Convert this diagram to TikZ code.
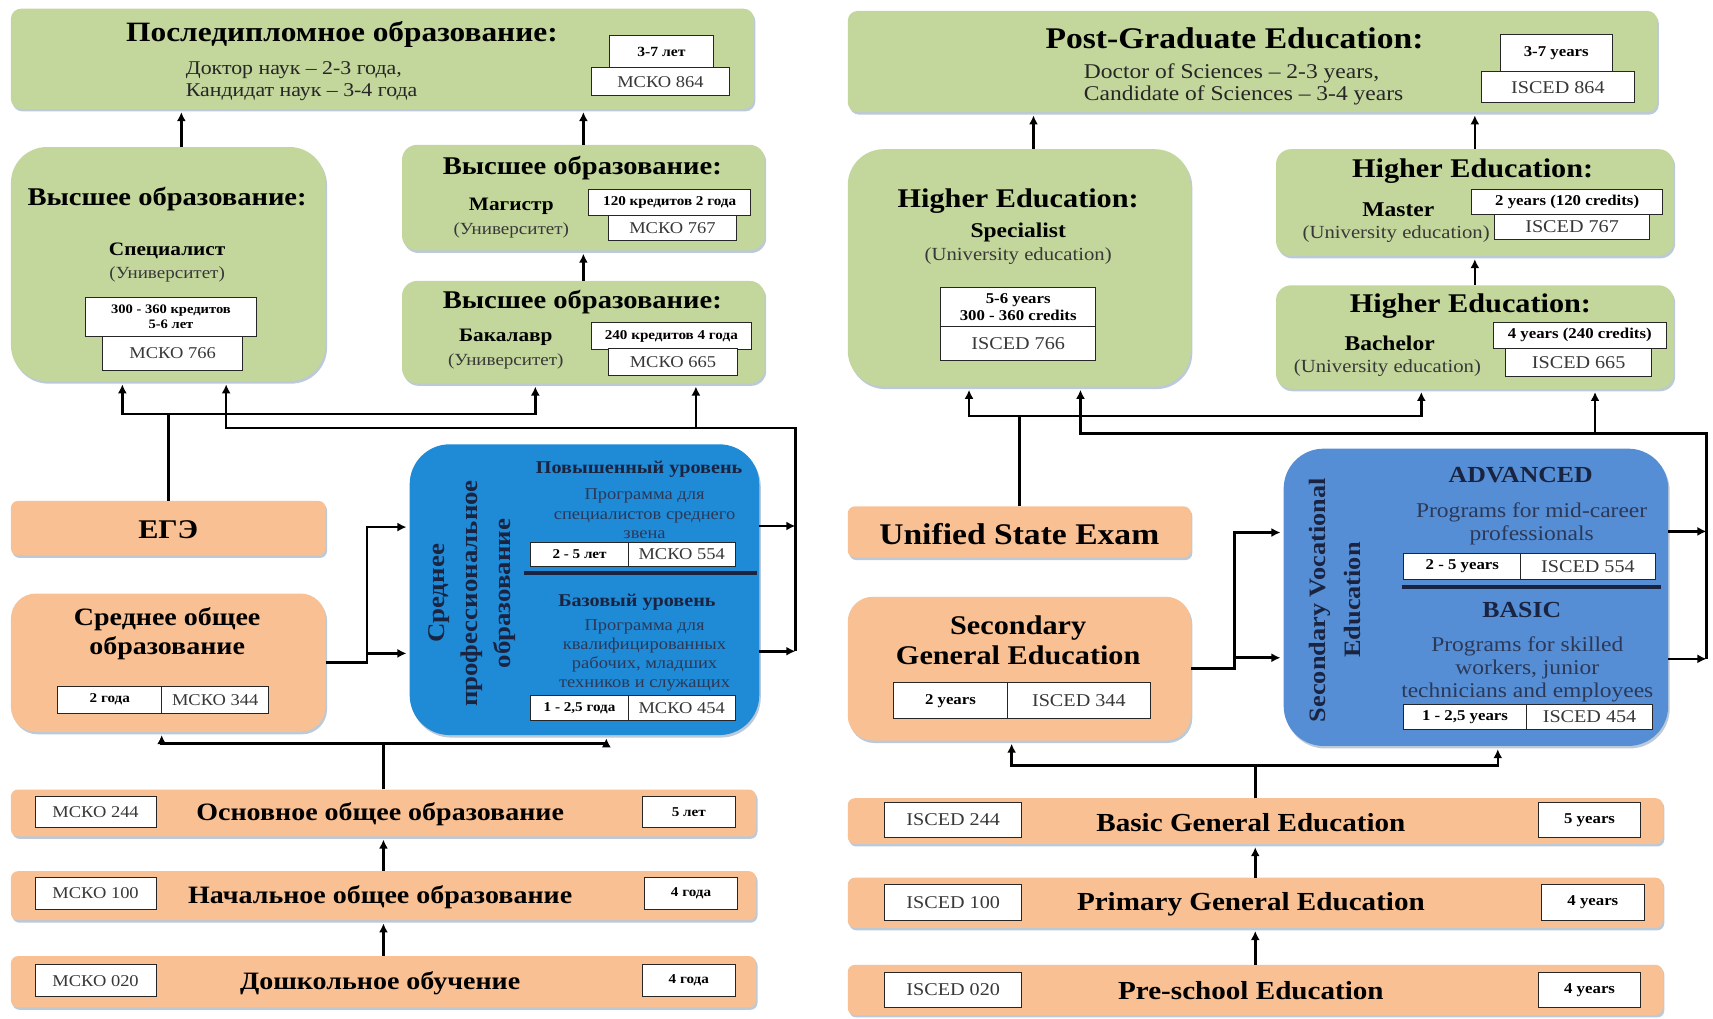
\documentclass[tikz,border=0pt]{standalone}
\usepackage{fontspec}
\setmainfont{Liberation Serif}[FakeStretch=1.12]
\usetikzlibrary{shadows,fit,arrows.meta}
\definecolor{gfill}{HTML}{C3D69B}
\definecolor{ofill}{HTML}{F9C193}
\definecolor{bfillL}{HTML}{1F8AD6}
\definecolor{bfillR}{HTML}{558ED5}
\definecolor{shadc}{HTML}{8FA6BF}
\definecolor{navy}{HTML}{1A2440}
\definecolor{navyg}{HTML}{2C3858}
\newcommand{\myfs}[2]{\fontsize{#1}{#2}\selectfont}
\tikzset{
  box/.style={inner sep=0pt, draw=none, drop shadow={shadow xshift=1.5pt,shadow yshift=-2.5pt,fill=shadc,opacity=.6}},
  gbox/.style={box, fill=gfill, rounded corners=#1},
  gbox/.default=10pt,
  obox/.style={box, fill=ofill, rounded corners=#1},
  obox/.default=7pt,
  wbox/.style={draw=black!85, line width=0.9pt, fill=white, inner sep=0pt, align=center},
  bt/.style={inner sep=0pt, align=center, font=\myfs{#1}{#1}\bfseries},
  rt/.style={inner sep=0pt, align=center, text=black!78, font=\myfs{#1}{#1}},
  ln/.style={line width=2.6pt},
  arr/.style={line width=2.6pt, -{Latex[length=9pt,width=9pt]}, shorten >=3pt},
  arrN/.style={line width=2.6pt, -{Latex[length=9pt,width=9pt]}},
  sepl/.style={line width=3.5pt, draw=navy},
}
% white box: name, x1, y1, x2, y2, font, text
\newcommand{\wb}[7]{%
  \pgfmathsetmacro\wbx{(#2+#4)/2}%
  \pgfmathsetmacro\wby{(#3+#5)/2}%
  \pgfmathsetmacro\wbw{(#4-#2)*1.0925}%
  \pgfmathsetmacro\wbh{(#5-#3)*1.089}%
  \node[wbox, minimum width=\wbw pt, minimum height=\wbh pt, font=#6] (#1) at (\wbx,\wby) {#7};}
\newcommand{\fB}[1]{\myfs{#1}{#1}\bfseries}
\newcommand{\fR}[1]{\myfs{#1}{#1}\color{black!78}}
\begin{document}
\begin{tikzpicture}[x=1.0925pt,y=-1.089pt]
\useasboundingbox (0,0) rectangle (1568,935);
\fill[white] (0,0) rectangle (1568,935);

% ================= LEFT (Russian) =================
\node[gbox, fit={(10,8)(690,100)}] (pg) {};
\node[bt=28] (pgT) at (313,32) {Последипломное образование:};
\node[rt=19.5, anchor=west, text=black!85] (pgL1) at (170,64) {Доктор наук – 2-3 года,};
\node[rt=19.5, anchor=west, text=black!85] (pgL2) at (170,85) {Кандидат наук – 3-4 года};
\wb{pgY}{558}{33}{653}{63}{\fB{14}}{3-7 лет}
\wb{pgI}{541}{62}{668}{88}{\fR{16.5}}{МСКО 864}

\node[gbox=36pt, fit={(10,135)(298,350)}] (spec) {};
\node[bt=25.5] (specT) at (153,183) {Высшее образование:};
\node[bt=19] (specS) at (153,230) {Специалист};
\node[rt=17] (specU) at (153,252) {(Университет)};
\wb{specY}{78}{273}{235}{309}{\myfs{13}{15}\bfseries}{300 - 360 кредитов\\5-6 лет}
\wb{specI}{94}{309}{222}{340}{\fR{16.5}}{МСКО 766}

\node[gbox=15pt, fit={(368,133)(700,230)}] (mag) {};
\node[bt=25.5] (magT) at (533,154) {Высшее образование:};
\node[bt=19] (magS) at (468,189) {Магистр};
\node[rt=17] (magU) at (468,212) {(Университет)};
\wb{magY}{539}{174}{687}{198}{\fB{13.5}}{120 кредитов 2 года}
\wb{magI}{557}{198}{674}{221}{\fR{16.5}}{МСКО 767}

\node[gbox=15pt, fit={(368,258)(700,352)}] (bak) {};
\node[bt=25.5] (bakT) at (533,277) {Высшее образование:};
\node[bt=19] (bakS) at (463,310) {Бакалавр};
\node[rt=17] (bakU) at (463,332) {(Университет)};
\wb{bakY}{541}{296}{688}{321}{\fB{13.5}}{240 кредитов 4 года}
\wb{bakI}{557}{320}{675}{345}{\fR{16.5}}{МСКО 665}

\node[obox, fit={(10,460)(298,510)}] (ege) {};
\node[bt=27] (egeT) at (154,486) {ЕГЭ};

\node[obox=25pt, fit={(10,545)(298,672)}] (sred) {};
\node[bt=25, font=\myfs{25}{29}\bfseries] (sredT) at (153,582) {Среднее общее\\образование};
\wb{sredY}{53}{630}{148}{655}{\fB{13.5}}{2 года}
\wb{sredI}{148}{630}{246}{655}{\fR{16.5}}{МСКО 344}

\node[box, fill=bfillL, rounded corners=40pt, fit={(375,408)(695,675)}] (spo) {};
\node[bt=24, font=\myfs{24}{33}\bfseries, text=navy, rotate=90] (spoT) at (432,545) {Среднее\\профессиональное\\образование};
\node[bt=18, text=navy] (spoA) at (585,431) {Повышенный уровень};
\node[rt=16.5, font=\myfs{16.5}{19.5}, text=navyg] (spoAd) at (590,472) {Программа для\\специалистов среднего\\звена};
\wb{spoAy}{486}{498}{575}{520}{\fB{13.5}}{2 - 5 лет}
\wb{spoAi}{575}{498}{673}{520}{\fR{16.5}}{МСКО 554}
\draw[sepl] (480,526) -- (693,526);
\node[bt=18, text=navy] (spoB) at (583,553) {Базовый уровень};
\node[rt=16.5, font=\myfs{16.5}{19}, text=navyg] (spoBd) at (590,602) {Программа для\\квалифицированных\\рабочих, младших\\техников и служащих};
\wb{spoBy}{486}{639}{575}{662}{\fB{13.5}}{1 - 2,5 года}
\wb{spoBi}{575}{639}{673}{662}{\fR{16.5}}{МСКО 454}

\node[obox, fit={(10,725)(692,768)}] (osn) {};
\wb{osnI}{32}{731}{143}{760}{\fR{16.5}}{МСКО 244}
\node[bt=25] (osnT) at (348,748) {Основное общее образование};
\wb{osnY}{588}{731}{673}{760}{\fB{13.5}}{5 лет}

\node[obox, fit={(10,800)(692,845)}] (nach) {};
\wb{nachI}{32}{806}{143}{835}{\fR{16.5}}{МСКО 100}
\node[bt=25] (nachT) at (348,824) {Начальное общее образование};
\wb{nachY}{590}{806}{675}{835}{\fB{13.5}}{4 года}

\node[obox, fit={(10,878)(692,925)}] (dosh) {};
\wb{doshI}{32}{886}{143}{915}{\fR{16.5}}{МСКО 020}
\node[bt=25] (doshT) at (348,903) {Дошкольное обучение};
\wb{doshY}{588}{886}{673}{915}{\fB{13.5}}{4 года}

% connectors left
\coordinate (cL1) at (166,0);
\draw[arr] (spec.north -| cL1) -- (pg.south -| cL1);
\draw[arr] (mag.north) -- (mag.north |- pg.south);
\draw[arr] (bak.north) -- (mag.south);
\coordinate (hL1a) at (112,380);
\coordinate (hL1b) at (490,380);
\draw[arr] (ege.north) |- (hL1a) -- (hL1a |- spec.south);
\draw[arr] (ege.north) |- (hL1b) -- (hL1b |- bak.south);
\coordinate (vLa) at (728,483);
\coordinate (vLb) at (728,598);
\coordinate (hL2) at (728,393);
\coordinate (hL2a) at (207,393);
\coordinate (hL2b) at (637,393);
\draw[arrN] (spo.east |- vLa) -- (vLa);
\draw[arrN] (spo.east |- vLb) -- (vLb);
\draw[arr] (vLb) -- (hL2) -| (hL2a |- spec.south);
\draw[arr] (hL2) -| (hL2b |- bak.south);
\coordinate (sa) at (336,484);
\coordinate (sb) at (336,600);
\draw[arr] (sred.east) -| (sa) -- (spo.west |- sa);
\draw[arr] (sred.east) -| (sb) -- (spo.west |- sb);
\coordinate (ha) at (148,683);
\coordinate (hb) at (555,683);
\draw[arr] (osn.north) |- (ha) -- (ha |- sred.south);
\draw[arr] (osn.north) |- (hb) -- (hb |- spo.south);
\draw[arr] (nach.north) -- (osn.south);
\draw[arr] (dosh.north) -- (nach.south);

% ================= RIGHT (English) =================
\node[gbox, fit={(776,10)(1517,103)}] (pgR) {};
\node[bt=30] (pgTr) at (1130,35) {Post-Graduate Education:};
\node[rt=21, anchor=west, text=black!85] (pgL1r) at (992,67) {Doctor of Sciences – 2-3 years,};
\node[rt=21, anchor=west, text=black!85] (pgL2r) at (992,88) {Candidate of Sciences – 3-4 years};
\wb{pgYr}{1373}{32}{1476}{66}{\fB{15}}{3-7 years}
\wb{pgIr}{1356}{66}{1496}{94}{\fR{18}}{ISCED 864}

\node[gbox=36pt, fit={(776,137)(1090,355)}] (specR) {};
\node[bt=27] (specTr) at (932,185) {Higher Education:};
\node[bt=21] (specSr) at (932,213) {Specialist};
\node[rt=18.5] (specUr) at (932,235) {(University education)};
\wb{specYr}{861}{264}{1003}{300}{\myfs{15}{17}\bfseries}{5-6 years\\300 - 360 credits}
\wb{specIr}{861}{300}{1003}{331}{\fR{18}}{ISCED 766}

\node[gbox=15pt, fit={(1168,137)(1532,235)}] (magR) {};
\node[bt=27] (magTr) at (1348,157) {Higher Education:};
\node[bt=21] (magSr) at (1280,193) {Master};
\node[rt=18.5] (magUr) at (1278,215) {(University education)};
\wb{magYr}{1347}{174}{1522}{197}{\fB{15}}{2 years (120 credits)}
\wb{magIr}{1368}{197}{1510}{220}{\fR{18}}{ISCED 767}

\node[gbox=15pt, fit={(1168,262)(1532,357)}] (bakR) {};
\node[bt=27] (bakTr) at (1346,281) {Higher Education:};
\node[bt=21] (bakSr) at (1272,315) {Bachelor};
\node[rt=18.5] (bakUr) at (1270,338) {(University education)};
\wb{bakYr}{1367}{296}{1525}{320}{\fB{15}}{4 years (240 credits)}
\wb{bakIr}{1378}{320}{1512}{346}{\fR{18}}{ISCED 665}

\node[obox, fit={(776,465)(1090,512)}] (use) {};
\node[bt=30] (useT) at (933,490) {Unified State Exam};

\node[obox=25pt, fit={(776,548)(1090,680)}] (sge) {};
\node[bt=27, font=\myfs{27}{29.5}\bfseries] (sgeT) at (932,588) {Secondary\\General Education};
\wb{sgeY}{818}{627}{922}{660}{\fB{15}}{2 years}
\wb{sgeI}{922}{627}{1053}{660}{\fR{18}}{ISCED 344}

\node[box, fill=bfillR, rounded corners=40pt, fit={(1175,412)(1527,685)}] (sve) {};
\node[bt=23.5, font=\myfs{23.5}{35}\bfseries, text=navy, rotate=90] (sveT) at (1222,551) {Secondary Vocational\\Education};
\node[bt=23, text=navy] (sveA) at (1392,436) {ADVANCED};
\node[rt=21, font=\myfs{21}{23}, text=navyg] (sveAd) at (1402,481) {Programs for mid-career\\professionals};
\wb{sveAy}{1285}{508}{1392}{532}{\fB{15}}{2 - 5 years}
\wb{sveAi}{1392}{508}{1515}{532}{\fR{18}}{ISCED 554}
\draw[sepl] (1283,539) -- (1520,539);
\node[bt=23, text=navy] (sveB) at (1393,560) {BASIC};
\node[rt=21, font=\myfs{21}{23}, text=navyg] (sveBd) at (1398,615) {Programs for skilled\\workers, junior\\technicians and employees};
\wb{sveBy}{1285}{647}{1397}{670}{\fB{15}}{1 - 2,5 years}
\wb{sveBi}{1397}{647}{1513}{670}{\fR{18}}{ISCED 454}

\node[obox, fit={(776,733)(1522,775)}] (bas) {};
\wb{basI}{810}{737}{935}{769}{\fR{18}}{ISCED 244}
\node[bt=26] (basT) at (1145,755) {Basic General Education};
\wb{basY}{1408}{737}{1502}{769}{\fB{15}}{5 years}

\node[obox, fit={(776,806)(1522,852)}] (prim) {};
\wb{primI}{810}{812}{935}{845}{\fR{18}}{ISCED 100}
\node[bt=26] (primT) at (1145,830) {Primary General Education};
\wb{primY}{1411}{812}{1505}{845}{\fB{15}}{4 years}

\node[obox, fit={(776,886)(1522,932)}] (pre) {};
\wb{preI}{810}{893}{935}{925}{\fR{18}}{ISCED 020}
\node[bt=26] (preT) at (1145,910) {Pre-school Education};
\wb{preY}{1408}{893}{1502}{925}{\fB{15}}{4 years}

% connectors right
\coordinate (cR1) at (946,0);
\draw[arr] (specR.north -| cR1) -- (pgR.south -| cR1);
\draw[arr] (magR.north) -- (magR.north |- pgR.south);
\draw[arr] (bakR.north) -- (magR.south);
\coordinate (hR1a) at (887,382);
\coordinate (hR1b) at (1301,382);
\draw[arr] (use.north) |- (hR1a) -- (hR1a |- specR.south);
\draw[arr] (use.north) |- (hR1b) -- (hR1b |- bakR.south);
\coordinate (vRa) at (1562,488);
\coordinate (vRb) at (1562,605);
\coordinate (hR2) at (1562,398);
\coordinate (hR2a) at (989,398);
\coordinate (hR2b) at (1460,398);
\draw[arrN] (sve.east |- vRa) -- (vRa);
\draw[arrN] (sve.east |- vRb) -- (vRb);
\draw[arr] (vRb) -- (hR2) -| (hR2a |- specR.south);
\draw[arr] (hR2) -| (hR2b |- bakR.south);
\coordinate (ra) at (1130,489);
\coordinate (rb) at (1130,604);
\draw[arr] (sge.east) -| (ra) -- (sve.west |- ra);
\draw[arr] (sge.east) -| (rb) -- (sve.west |- rb);
\coordinate (hRa) at (926,703);
\coordinate (hRb) at (1371,703);
\draw[arr] (bas.north) |- (hRa) -- (hRa |- sge.south);
\draw[arr] (bas.north) |- (hRb) -- (hRb |- sve.south);
\draw[arr] (prim.north) -- (bas.south);
\draw[arr] (pre.north) -- (prim.south);
\end{tikzpicture}
\end{document}
